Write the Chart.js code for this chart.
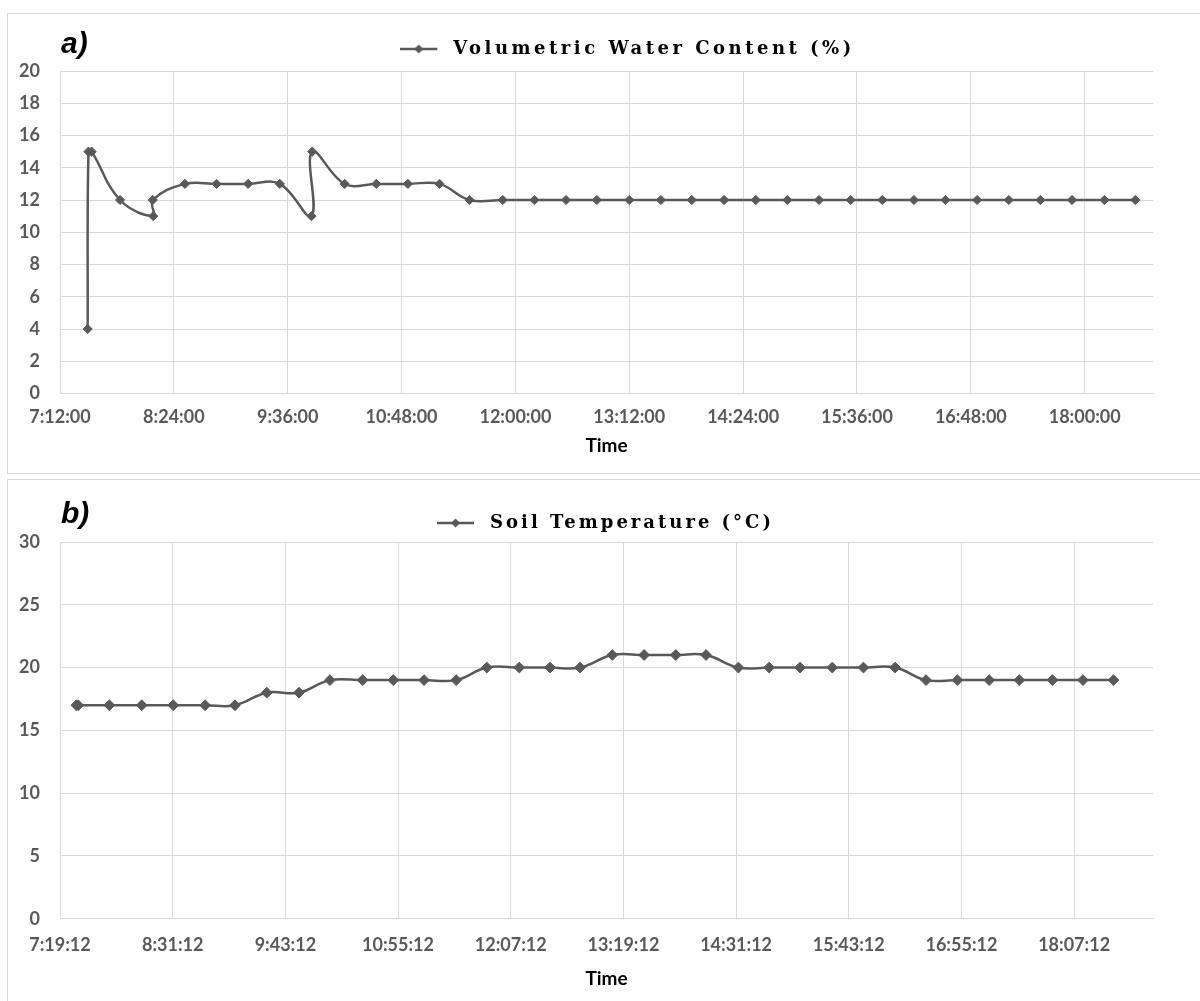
<!DOCTYPE html>
<html>
<head>
<meta charset="utf-8">
<script src="https://cdn.jsdelivr.net/npm/chart.js@4/dist/chart.umd.min.js"></script>
<style>
  html, body { margin: 0; padding: 0; background: #fff; overflow: hidden; }
  body { width: 1200px; height: 1001px; position: relative; }
  .panel { position: absolute; left: 7px; width: 1200px; border: 1px solid #d9d9d9; }
  #panel-a { top: 13px; height: 459px; }
  #panel-b { top: 479px; height: 540px; }
  .panel canvas { position: absolute; left: 0; top: 0; }
  .tag { position: absolute; left: 53px; font: italic bold 30px "Liberation Sans", Arial, sans-serif;
         line-height: 30px; color: #000; z-index: 2; }
</style>
</head>
<body>
<div class="panel" id="panel-a">
  <canvas id="chart-a" width="1192" height="459"></canvas>
  <div class="tag" style="top:14px">a)</div>
</div>
<div class="panel" id="panel-b">
  <canvas id="chart-b" width="1192" height="521"></canvas>
  <div class="tag" style="top:18px">b)</div>
</div>

<script>
// ── Data ──────────────────────────────────────────────────────────────────

const vwcLabel  = 'Volumetric Water Content (%)';
const vwcTicksX = ['7:12:00', '8:24:00', '9:36:00', '10:48:00', '12:00:00', '13:12:00',
                   '14:24:00', '15:36:00', '16:48:00', '18:00:00'];
const vwcEndX   = '18:43:12';
const vwcTicksY = [0, 2, 4, 6, 8, 10, 12, 14, 16, 18, 20];
const vwcTimes  = ['7:29:30', '7:30:00', '7:32:00', '7:50:00', '8:11:00', '8:10:40', '8:31:00',
                   '8:51:00', '9:11:00', '9:31:00', '9:51:00', '9:51:30', '10:12:00', '10:32:00',
                   '10:52:00', '11:12:00', '11:31:00', '11:52:00', '12:12:00', '12:32:00',
                   '12:51:30', '13:12:00', '13:32:00', '13:51:30', '14:12:00', '14:32:00',
                   '14:52:00', '15:12:00', '15:32:00', '15:52:00', '16:12:00', '16:32:00',
                   '16:52:00', '17:12:00', '17:32:00', '17:52:00', '18:12:30', '18:32:00'];
const vwcValues = [4, 15, 15, 12, 11, 12, 13, 13, 13, 13, 11, 15, 13, 13, 13, 13,
                   12, 12, 12, 12, 12, 12, 12, 12, 12, 12, 12, 12, 12, 12, 12, 12,
                   12, 12, 12, 12, 12, 12];

const tempLabel  = 'Soil Temperature (°C)';
const tempTicksX = ['7:19:12', '8:31:12', '9:43:12', '10:55:12', '12:07:12', '13:19:12',
                    '14:31:12', '15:43:12', '16:55:12', '18:07:12'];
const tempEndX   = '18:57:36';
const tempTicksY = [0, 5, 10, 15, 20, 25, 30];
const tempTimes  = ['7:29:40', '7:30:50', '7:50:45', '8:11:25', '8:31:35', '8:51:55', '9:11:00',
                    '9:31:20', '9:51:55', '10:11:40', '10:32:35', '10:52:10', '11:11:50',
                    '11:32:20', '11:51:55', '12:12:40', '12:32:20', '12:51:30', '13:12:05',
                    '13:32:25', '13:52:40', '14:12:00', '14:32:40', '14:52:20', '15:12:05',
                    '15:32:40', '15:52:35', '16:12:50', '16:32:35', '16:52:35', '17:12:55',
                    '17:32:10', '17:53:20', '18:12:50', '18:32:20'];
const tempValues = [17, 17, 17, 17, 17, 17, 17, 18, 18, 19, 19, 19, 19, 19,
                    20, 20, 20, 20, 21, 21, 21, 21, 20, 20, 20, 20, 20, 20,
                    19, 19, 19, 19, 19, 19, 19];

// ── Styling ───────────────────────────────────────────────────────────────

const LINE  = '#595959';
const GRID  = '#d9d9d9';
const TICK_FONT   = { family: 'Lato', weight: 'bold', size: 18 };
const TITLE_FONT  = { family: 'Lato', weight: 'bold', size: 19 };
const LEGEND_FONT = { family: 'DejaVu Serif', weight: 'bold', size: 18 };

// 'H:MM[:SS]' -> minutes of the day
function toMin(t) {
  const p = t.split(':').map(Number);
  return p[0] * 60 + p[1] + (p[2] || 0) / 60;
}

// legend marker: short line with a diamond on it
function legendMarker(r) {
  const c = document.createElement('canvas');
  c.width = 44; c.height = 14;
  const g = c.getContext('2d');
  g.strokeStyle = LINE; g.lineWidth = 2.5;
  g.beginPath(); g.moveTo(0, 7); g.lineTo(37, 7); g.stroke();
  g.fillStyle = LINE;
  g.beginPath();
  g.moveTo(18.5 - r, 7); g.lineTo(18.5, 7 - r); g.lineTo(18.5 + r, 7); g.lineTo(18.5, 7 + r);
  g.closePath(); g.fill();
  return c;
}

// letter-spaced legend text, fixed legend box height, optional x shift
function spacedLegend(spacing, boxH, shiftX) {
  return {
    id: 'spacedLegend',
    beforeLayout(chart) {
      const lg = chart.legend;
      if (!lg || lg._spaced) return;
      lg._spaced = true;
      const fit = lg.fit, draw = lg.draw;
      lg.fit = function () {
        const c = this.ctx;
        c.save(); c.letterSpacing = spacing + 'px';
        fit.call(this);
        c.restore();
        this.height = boxH;
      };
      lg.draw = function () {
        const c = this.ctx;
        c.save(); c.letterSpacing = spacing + 'px'; c.translate(shiftX, 0);
        draw.call(this);
        c.restore();
      };
    }
  };
}

function makeChart(id, cfg) {
  const ctx = document.getElementById(id).getContext('2d');
  return new Chart(ctx, {
    type: 'line',
    data: {
      datasets: [{
        label: cfg.label,
        data: cfg.times.map((t, i) => ({ x: toMin(t), y: cfg.values[i] })),
        borderColor: LINE,
        backgroundColor: LINE,
        borderWidth: 2.5,
        pointStyle: 'rectRot',
        pointRadius: cfg.pointR,
        pointBorderWidth: 1,
        tension: 0.4,
        fill: false,
      }],
    },
    options: {
      responsive: false,
      animation: false,
      layout: { padding: { left: 0, right: 47, top: 0, bottom: 0 } },
      plugins: {
        tooltip: { enabled: false },
        legend: {
          position: 'top',
          labels: {
            usePointStyle: true,
            pointStyle: legendMarker(4.5),
            pointStyleWidth: 44,
            color: '#000',
            font: LEGEND_FONT,
            padding: cfg.legendPad,
          },
        },
      },
      scales: {
        x: {
          type: 'linear',
          min: toMin(cfg.ticksX[0]),
          max: toMin(cfg.endX),
          afterBuildTicks(s) { s.ticks = cfg.ticksX.map(t => ({ value: toMin(t) })); },
          afterFit(s) { s.height = cfg.xAxisH; },
          ticks: {
            autoSkip: false, maxRotation: 0, padding: cfg.xTickPad,
            color: LINE, font: TICK_FONT,
            callback: (v, i) => cfg.ticksX[i],
          },
          grid: { color: GRID, drawTicks: false },
          border: { color: GRID },
          title: {
            display: true, text: 'Time', color: '#000', font: TITLE_FONT,
            padding: { top: 0, bottom: cfg.titlePad },
          },
        },
        y: {
          min: cfg.ticksY[0],
          max: cfg.ticksY[cfg.ticksY.length - 1],
          afterFit(s) { s.width = 52; },
          ticks: {
            stepSize: cfg.ticksY[1] - cfg.ticksY[0],
            padding: 20, color: LINE, font: TICK_FONT,
          },
          grid: { color: GRID, drawTicks: false },
          border: { color: GRID },
        },
      },
    },
    plugins: [spacedLegend(cfg.spacing, cfg.legendH, cfg.legendShift)],
  });
}

function build() {
  makeChart('chart-a', {
    label: vwcLabel, times: vwcTimes, values: vwcValues,
    ticksX: vwcTicksX, endX: vwcEndX, ticksY: vwcTicksY,
    pointR: 4.6, legendPad: 26, legendH: 57, legendShift: 47, spacing: 3.5,
    xAxisH: 79.5, xTickPad: 13, titlePad: 16,
  });
  makeChart('chart-b', {
    label: tempLabel, times: tempTimes, values: tempValues,
    ticksX: tempTicksX, endX: tempEndX, ticksY: tempTicksY,
    pointR: 5.4, legendPad: 34, legendH: 62, legendShift: 25, spacing: 3,
    xAxisH: 82.3, xTickPad: 16, titlePad: 11,
  });
}

Promise.all([
  document.fonts.load('bold 18px Lato'),
  document.fonts.load('bold 18px "DejaVu Serif"'),
]).then(build, build);
</script>
</body>
</html>
